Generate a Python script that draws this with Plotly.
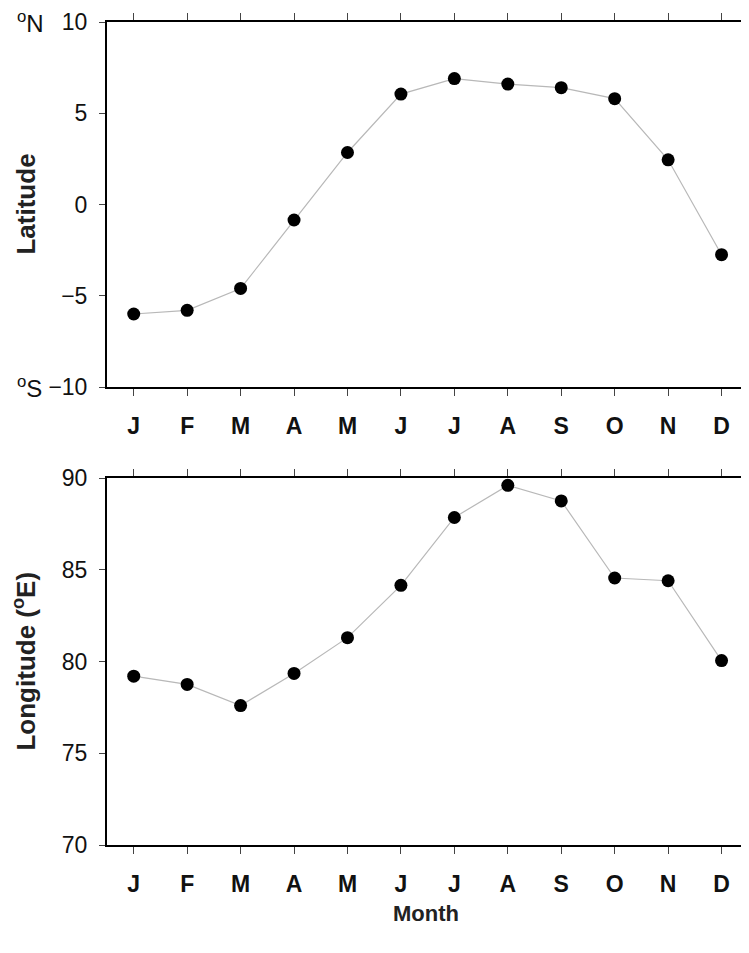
import plotly.graph_objects as go
from plotly.subplots import make_subplots

months = ["J", "F", "M", "A", "M", "J", "J", "A", "S", "O", "N", "D"]
month_idx = list(range(1, 13))
latitude = [-6.0, -5.8, -4.6, -0.85, 2.85, 6.05, 6.9, 6.6, 6.4, 5.8, 2.45, -2.75]
longitude = [79.2, 78.75, 77.6, 79.35, 81.3, 84.15, 87.85, 89.6, 88.75, 84.55, 84.4, 80.05]
lat_ticks = [10, 5, 0, -5, -10]
lat_ticktext = ["10", "5", "0", "\u22125", "\u221210"]
lon_ticks = [70, 75, 80, 85, 90]

FONT = "Liberation Sans, Arial, sans-serif"

fig = make_subplots(rows=2, cols=1, vertical_spacing=0.11)

for row, vals in ((1, latitude), (2, longitude)):
    fig.add_trace(go.Scatter(
        x=month_idx, y=vals, mode="lines+markers",
        line=dict(color="#b8b8b8", width=1.2),
        marker=dict(color="black", size=13),
        showlegend=False, cliponaxis=False,
    ), row=row, col=1)

xcommon = dict(
    range=[0.5, 12.42], tickmode="array", tickvals=month_idx, ticktext=months,
    ticks="outside", ticklen=7, tickwidth=1.2, tickcolor="#444",
    showline=True, linecolor="black", linewidth=2, mirror="ticks",
    showgrid=False, zeroline=False, automargin=False, ticklabelstandoff=10,
    tickfont=dict(family=FONT, size=23, color="#111", weight="bold"),
)
fig.update_xaxes(**xcommon, row=1, col=1)
fig.update_xaxes(**xcommon, row=2, col=1)

ycommon = dict(
    ticks="outside", ticklen=6, tickwidth=1.2, tickcolor="#444",
    showline=True, linecolor="black", linewidth=2, mirror=True,
    showgrid=False, zeroline=False, automargin=False, ticklabelstandoff=7,
    tickfont=dict(family=FONT, size=23, color="#111"),
)
fig.update_yaxes(**ycommon, range=[-10, 10], tickmode="array", tickvals=lat_ticks,
                 ticktext=lat_ticktext, row=1, col=1)
fig.update_yaxes(**ycommon, range=[70, 90], tickmode="array", tickvals=lon_ticks,
                 ticktext=[str(v) for v in lon_ticks], row=2, col=1)

fig.update_layout(
    width=741, height=945,
    margin=dict(l=99, r=5, t=14, b=108, autoexpand=False),
    plot_bgcolor="white", paper_bgcolor="white",
    yaxis=dict(domain=[0.5565, 1.0]),
    yaxis2=dict(domain=[0.0, 0.4459]),
)

title_font = dict(family=FONT, size=26, color="#222", weight="bold")
fig.add_annotation(text="Latitude", xref="paper", yref="y domain", x=-0.1287, y=0.5,
                   xanchor="center", yanchor="middle", textangle=-90,
                   showarrow=False, font=title_font)
fig.add_annotation(text="Longitude (<sup>o</sup>E)", xref="paper", yref="y2 domain",
                   x=-0.1287, y=0.5, xanchor="center", yanchor="middle",
                   textangle=-90, showarrow=False, font=title_font)
fig.add_annotation(text="<sup>o</sup>N", xref="paper", yref="y", x=-0.096, y=10,
                   xanchor="right", yanchor="middle", showarrow=False,
                   font=dict(family=FONT, size=24, color="#111"))
fig.add_annotation(text="<sup>o</sup>S", xref="paper", yref="y", x=-0.099, y=-10,
                   xanchor="right", yanchor="middle", showarrow=False,
                   font=dict(family=FONT, size=24, color="#111"))
fig.add_annotation(text="Month", xref="paper", yref="paper", x=0.5, y=-0.0838,
                   xanchor="center", yanchor="middle", showarrow=False,
                   font=dict(family=FONT, size=22, color="#222", weight="bold"))

fig.write_html("out.html")
